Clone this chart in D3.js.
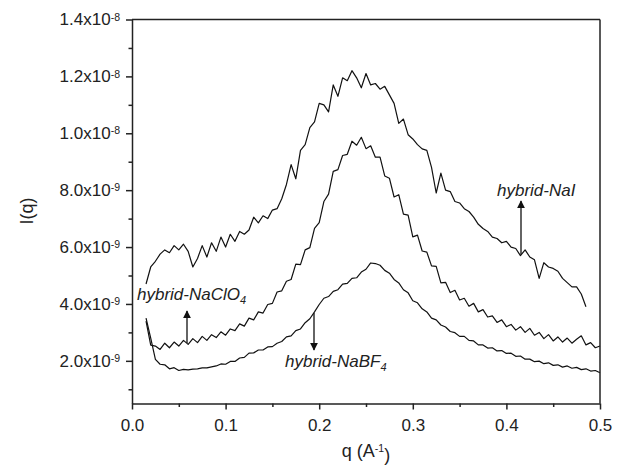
<!DOCTYPE html>
<html>
<head>
<meta charset="utf-8">
<script src="https://cdn.jsdelivr.net/npm/d3@7"></script>
<style>
  body { margin: 0; background: #fff; }
  text { font-family: "Liberation Sans", Arial, Helvetica, sans-serif; fill: #222; }
</style>
</head>
<body>
<svg id="chart"></svg>
<script>
// q values (A^-1), shared by all three curves
var qGrid = [
  0.015,0.020,0.025,0.030,0.035,0.040,0.045,0.050,0.055,0.060,
  0.065,0.070,0.075,0.080,0.085,0.090,0.095,0.100,0.105,0.110,
  0.115,0.120,0.125,0.130,0.135,0.140,0.145,0.150,0.155,0.160,
  0.165,0.170,0.175,0.180,0.185,0.190,0.195,0.200,0.205,0.210,
  0.215,0.220,0.225,0.230,0.235,0.240,0.245,0.250,0.255,0.260,
  0.265,0.270,0.275,0.280,0.285,0.290,0.295,0.300,0.305,0.310,
  0.315,0.320,0.325,0.330,0.335,0.340,0.345,0.350,0.355,0.360,
  0.365,0.370,0.375,0.380,0.385,0.390,0.395,0.400,0.405,0.410,
  0.415,0.420,0.425,0.430,0.435,0.440,0.445,0.450,0.455,0.460,
  0.465,0.470,0.475,0.480,0.485,0.490,0.495,0.500
];

// intensities, in units of 1e-9
var hybridNaI = [
  4.7,5.3,5.5,5.75,5.9,5.8,6.05,5.9,6.1,5.85,
  5.3,5.6,6.05,5.65,6.15,5.85,6.35,6.0,6.45,6.2,
  6.55,6.45,6.6,7.05,6.85,7.1,7.0,7.3,7.35,7.7,
  8.2,8.9,8.4,9.4,9.6,10.2,10.4,11.05,11.0,10.75,
  11.7,11.3,11.95,11.85,12.2,11.95,11.6,12.1,11.7,11.75,
  11.55,11.65,11.35,11.05,10.35,10.5,9.95,9.8,9.6,9.45,
  9.4,8.8,7.9,8.6,8.0,7.95,7.6,7.55,7.35,7.25,
  7.05,6.8,6.65,6.55,6.35,6.3,6.15,6.2,6.0,5.95,
  5.7,5.9,5.65,5.55,4.9,5.45,5.3,5.25,5.15,4.9,
  4.75,4.6,4.6,4.35,3.9,null,null,null
];

var hybridNaClO4 = [
  3.4,2.55,2.52,2.4,2.62,2.46,2.66,2.52,2.72,2.58,
  2.78,2.64,2.86,2.72,2.92,2.82,3.02,2.9,3.12,3.06,
  3.3,3.22,3.5,3.44,3.72,3.68,3.98,4.02,4.42,4.46,
  4.8,4.86,5.4,5.38,5.9,5.98,6.66,6.86,7.6,7.86,
  8.66,8.72,9.22,9.26,9.72,9.58,9.86,9.46,9.56,9.16,
  9.16,8.5,8.42,7.76,7.84,7.16,7.12,6.36,6.42,5.86,
  5.82,5.34,5.32,4.74,4.76,4.4,4.48,4.14,4.2,3.92,
  4.02,3.72,3.8,3.54,3.58,3.35,3.44,3.2,3.28,3.08,
  3.2,3.0,3.14,2.9,3.0,2.78,2.92,2.7,2.84,2.66,
  2.8,2.62,2.76,2.88,2.56,2.64,2.46,2.52
];

var hybridNaBF4 = [
  3.5,2.8,2.05,1.88,1.86,1.72,1.76,1.66,1.7,1.68,
  1.71,1.72,1.75,1.75,1.79,1.82,1.89,1.88,1.98,1.98,
  2.1,2.12,2.27,2.28,2.38,2.38,2.49,2.5,2.62,2.68,
  2.84,2.88,3.06,3.12,3.34,3.48,3.72,3.98,4.2,4.26,
  4.44,4.5,4.7,4.72,4.9,4.92,5.12,5.22,5.44,5.42,
  5.36,5.18,5.08,4.86,4.74,4.5,4.39,4.11,4.04,3.83,
  3.72,3.5,3.44,3.26,3.19,3.03,2.99,2.86,2.86,2.72,
  2.7,2.56,2.56,2.45,2.46,2.35,2.36,2.26,2.27,2.16,
  2.17,2.06,2.06,1.97,1.99,1.9,1.93,1.84,1.86,1.78,
  1.82,1.74,1.77,1.69,1.72,1.64,1.66,1.58
];

// tick values and labels
var xTicks = [0.0, 0.1, 0.2, 0.3, 0.4, 0.5];
var xTickLabels = ["0.0", "0.1", "0.2", "0.3", "0.4", "0.5"];
var xMinorTicks = [0.05, 0.15, 0.25, 0.35, 0.45];
var yTicks = [2e-9, 4e-9, 6e-9, 8e-9, 1.0e-8, 1.2e-8, 1.4e-8];
var yTickMantissa = ["2.0", "4.0", "6.0", "8.0", "1.0", "1.2", "1.4"];
var yTickExponent = ["-9", "-9", "-9", "-9", "-8", "-8", "-8"];
var yMinorTicks = [1e-9, 3e-9, 5e-9, 7e-9, 9e-9, 1.1e-8, 1.3e-8];

var unit = 1e-9;

// dimensions
var margin = {top: 19.5, right: 21, bottom: 63.5, left: 132},
    width = 621 - margin.left - margin.right,
    height = 467 - margin.top - margin.bottom;

var svg = d3.select("#chart")
    .attr("width", 621)
    .attr("height", 467);

var g = svg.append("g")
    .attr("transform", "translate(" + margin.left + "," + margin.top + ")");

var x = d3.scaleLinear().domain([0, 0.5]).range([0, width]);
var y = d3.scaleLinear().domain([0.5e-9, 1.4e-8]).range([height, 0]);

// curves
var series = [hybridNaI, hybridNaClO4, hybridNaBF4];

var line = d3.line()
    .defined(function(d) { return d[1] !== null; })
    .x(function(d) { return x(d[0]); })
    .y(function(d) { return y(d[1] * unit); });

series.forEach(function(vals) {
    var pts = qGrid.map(function(q, i) { return [q, vals[i]]; });
    g.append("path")
        .datum(pts)
        .attr("fill", "none")
        .attr("stroke", "#111")
        .attr("stroke-width", 1.2)
        .attr("stroke-linejoin", "round")
        .attr("d", line);
});

// x axis
var xAxis = g.append("g")
    .attr("transform", "translate(0," + height + ")")
    .call(d3.axisBottom(x)
        .tickValues(xTicks)
        .tickSize(6)
        .tickSizeOuter(0)
        .tickPadding(9)
        .tickFormat(function(d, i) { return xTickLabels[i]; }));
xAxis.selectAll("text").style("font-size", "17px").attr("fill", "#222");

g.append("g")
    .attr("transform", "translate(0," + height + ")")
    .call(d3.axisBottom(x).tickValues(xMinorTicks).tickSize(3.5).tickFormat(""))
    .select(".domain").remove();

// y axis
var yAxis = g.append("g")
    .call(d3.axisLeft(y)
        .tickValues(yTicks)
        .tickSize(6)
        .tickSizeOuter(0)
        .tickPadding(6)
        .tickFormat(""));

yAxis.selectAll(".tick text").each(function(d, i) {
    var t = d3.select(this).style("font-size", "17px").attr("fill", "#222");
    t.append("tspan").text(yTickMantissa[i] + "x10");
    t.append("tspan")
        .attr("dy", "-0.45em")
        .style("font-size", "10.5px")
        .text(yTickExponent[i]);
});

g.append("g")
    .call(d3.axisLeft(y).tickValues(yMinorTicks).tickSize(3.5).tickFormat(""))
    .select(".domain").remove();

g.selectAll(".domain, .tick line")
    .attr("stroke", "#222")
    .attr("stroke-width", 1.5);

// top and right frame lines
g.append("line")
    .attr("x1", 0).attr("x2", width)
    .attr("y1", 0).attr("y2", 0)
    .attr("stroke", "#222").attr("stroke-width", 1.5);
g.append("line")
    .attr("x1", width).attr("x2", width)
    .attr("y1", 0).attr("y2", height)
    .attr("stroke", "#222").attr("stroke-width", 1.5);

// axis titles
svg.append("text")
    .attr("transform", "translate(33,211) rotate(-90)")
    .attr("text-anchor", "middle")
    .style("font-size", "18px")
    .text("I(q)");

var xTitle = svg.append("text")
    .attr("x", 366)
    .attr("y", 457)
    .attr("text-anchor", "middle")
    .style("font-size", "18px");
xTitle.append("tspan").text("q (A");
xTitle.append("tspan").attr("dy", "-0.5em").style("font-size", "10.5px").text("-1");
xTitle.append("tspan").attr("dy", "0.5em").text(")");

// annotations with arrows
svg.append("defs").append("marker")
    .attr("id", "arrow")
    .attr("viewBox", "0 0 10 10")
    .attr("refX", 9).attr("refY", 5)
    .attr("markerWidth", 6).attr("markerHeight", 8)
    .attr("orient", "auto")
    .append("path")
    .attr("d", "M0,0 L10,5 L0,10 Z")
    .attr("fill", "#111");

function arrow(x1, y1, x2, y2) {
    svg.append("line")
        .attr("x1", x1).attr("y1", y1)
        .attr("x2", x2).attr("y2", y2)
        .attr("stroke", "#111")
        .attr("stroke-width", 1.3)
        .attr("marker-end", "url(#arrow)");
}

function label(px, py, main, sub) {
    var t = svg.append("text")
        .attr("x", px).attr("y", py)
        .style("font-size", "17px")
        .style("font-style", "italic");
    t.append("tspan").text(main);
    if (sub) {
        t.append("tspan").attr("dy", "0.35em").style("font-size", "11px").text(sub);
    }
}

label(497, 196, "hybrid-NaI");
arrow(521, 254, 521, 201);

label(137, 300, "hybrid-NaClO", "4");
arrow(187, 343, 187, 311);

label(285, 367, "hybrid-NaBF", "4");
arrow(314, 313, 314, 350);
</script>
</body>
</html>
